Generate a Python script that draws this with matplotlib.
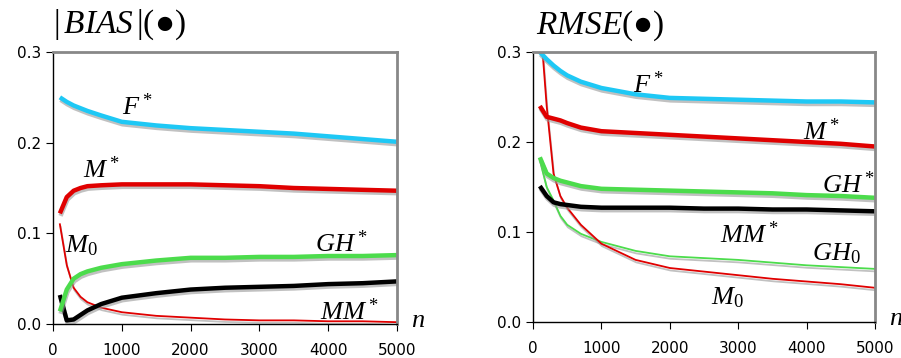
import matplotlib
matplotlib.use("Agg")
import matplotlib.pyplot as plt
import matplotlib.patheffects as pe

matplotlib.rcParams['mathtext.fontset'] = 'custom'
matplotlib.rcParams['mathtext.rm'] = 'Liberation Serif'
matplotlib.rcParams['mathtext.it'] = 'Liberation Serif:italic'
matplotlib.rcParams['mathtext.bf'] = 'Liberation Serif:bold'

# sample sizes
n = [100, 200, 300, 400, 500, 700, 1000, 1500, 2000, 2500, 3000, 3500, 4000, 4500, 5000]

# |BIAS| panel
bias_F = [0.250, 0.245, 0.241, 0.238, 0.235, 0.230, 0.223, 0.219, 0.216, 0.214, 0.212, 0.210, 0.207, 0.204, 0.201]
bias_M = [0.122, 0.140, 0.147, 0.150, 0.152, 0.153, 0.154, 0.154, 0.154, 0.153, 0.152, 0.150, 0.149, 0.148, 0.147]
bias_M0 = [0.110, 0.065, 0.040, 0.030, 0.024, 0.018, 0.013, 0.009, 0.007, 0.005, 0.004, 0.004, 0.003, 0.003, 0.002]
bias_GH = [0.014, 0.038, 0.050, 0.055, 0.058, 0.062, 0.066, 0.070, 0.073, 0.073, 0.074, 0.074, 0.075, 0.075, 0.076]
bias_MM = [0.032, 0.004, 0.005, 0.010, 0.015, 0.022, 0.029, 0.034, 0.038, 0.040, 0.041, 0.042, 0.044, 0.045, 0.047]

# RMSE panel
rmse_F = [0.300, 0.292, 0.285, 0.279, 0.274, 0.267, 0.260, 0.253, 0.249, 0.248, 0.247, 0.246, 0.245, 0.245, 0.244]
rmse_M = [0.240, 0.228, 0.226, 0.224, 0.221, 0.216, 0.212, 0.210, 0.208, 0.206, 0.204, 0.202, 0.200, 0.198, 0.195]
rmse_M0 = [0.340, 0.240, 0.165, 0.140, 0.127, 0.108, 0.087, 0.069, 0.060, 0.056, 0.052, 0.048, 0.045, 0.042, 0.038]
rmse_GH = [0.183, 0.165, 0.160, 0.157, 0.155, 0.151, 0.148, 0.147, 0.146, 0.145, 0.144, 0.143, 0.141, 0.140, 0.138]
rmse_GH0 = [0.180, 0.150, 0.135, 0.118, 0.108, 0.098, 0.089, 0.079, 0.073, 0.071, 0.069, 0.066, 0.063, 0.061, 0.059]
rmse_MM = [0.151, 0.140, 0.133, 0.131, 0.130, 0.128, 0.127, 0.127, 0.127, 0.126, 0.126, 0.125, 0.125, 0.124, 0.123]

cyan = "#1EC8F5"
red = "#E00000"
green = "#4CDC4C"
black = "#000000"

shadow = [pe.SimpleLineShadow(offset=(0.5, -1.8), shadow_color="#999999", alpha=0.6), pe.Normal()]
title_font = ["Liberation Serif", "DejaVu Sans"]

fig = plt.figure(figsize=(9.01, 3.58), dpi=100)
ax1 = fig.add_axes([53/901, 1 - 324/358, 344/901, 272/358])
ax2 = fig.add_axes([533/901, 1 - 322/358, 342/901, 270/358])

label_fs = 19


def style(ax):
    ax.set_xlim(0, 5000)
    ax.set_ylim(0, 0.3)
    ax.set_xticks([0, 1000, 2000, 3000, 4000, 5000])
    ax.set_yticks([0.0, 0.1, 0.2, 0.3])
    ax.set_yticklabels(["0.0", "0.1", "0.2", "0.3"])
    ax.tick_params(direction="out", length=5, labelsize=11, colors="black")
    ax.tick_params(axis="x", pad=9)
    ax.spines["top"].set_color("#888888")
    ax.spines["right"].set_color("#888888")
    ax.spines["top"].set_linewidth(2)
    ax.spines["right"].set_linewidth(2)
    ax.spines["left"].set_linewidth(1)
    ax.spines["bottom"].set_linewidth(1)
    ax.text(1.04, -0.01, r"$n$", transform=ax.transAxes, fontsize=label_fs,
            ha="left", va="baseline")


def thick(ax, y, c):
    ax.plot(n, y, color=c, lw=3.2, path_effects=shadow, solid_capstyle="butt")


def thin(ax, y, c):
    ax.plot(n, y, color=c, lw=1.3, path_effects=shadow)


# left panel
thin(ax1, bias_M0, red)
thick(ax1, bias_MM, black)
thick(ax1, bias_GH, green)
thick(ax1, bias_M, red)
thick(ax1, bias_F, cyan)
style(ax1)
ax1.text(1000, 0.231, r"$F^*$", fontsize=label_fs)
ax1.text(440, 0.161, r"$M^*$", fontsize=label_fs)
ax1.text(175, 0.079, r"$M_0$", fontsize=label_fs)
ax1.text(3810, 0.079, r"$GH^*$", fontsize=label_fs)
ax1.text(3880, 0.004, r"$MM^*$", fontsize=label_fs)
ax1.text(0.0, 1.035, "$|\\,BIAS\\,|$(\u25CF)", transform=ax1.transAxes,
         fontsize=24, ha="left", va="bottom", family=title_font)

# right panel
thin(ax2, rmse_GH0, green)
thin(ax2, rmse_M0, red)
thick(ax2, rmse_MM, black)
thick(ax2, rmse_GH, green)
thick(ax2, rmse_M, red)
thick(ax2, rmse_F, cyan)
style(ax2)
ax2.text(1460, 0.255, r"$F^*$", fontsize=label_fs)
ax2.text(3950, 0.202, r"$M^*$", fontsize=label_fs)
ax2.text(4230, 0.143, r"$GH^*$", fontsize=label_fs, clip_on=False)
ax2.text(2730, 0.088, r"$MM^*$", fontsize=label_fs)
ax2.text(4080, 0.069, r"$GH_0$", fontsize=label_fs)
ax2.text(2600, 0.019, r"$M_0$", fontsize=label_fs)
ax2.text(0.01, 1.035, "$RMSE$(\u25CF)", transform=ax2.transAxes,
         fontsize=24, ha="left", va="bottom", family=title_font)

fig.savefig("out.png", dpi=100)
